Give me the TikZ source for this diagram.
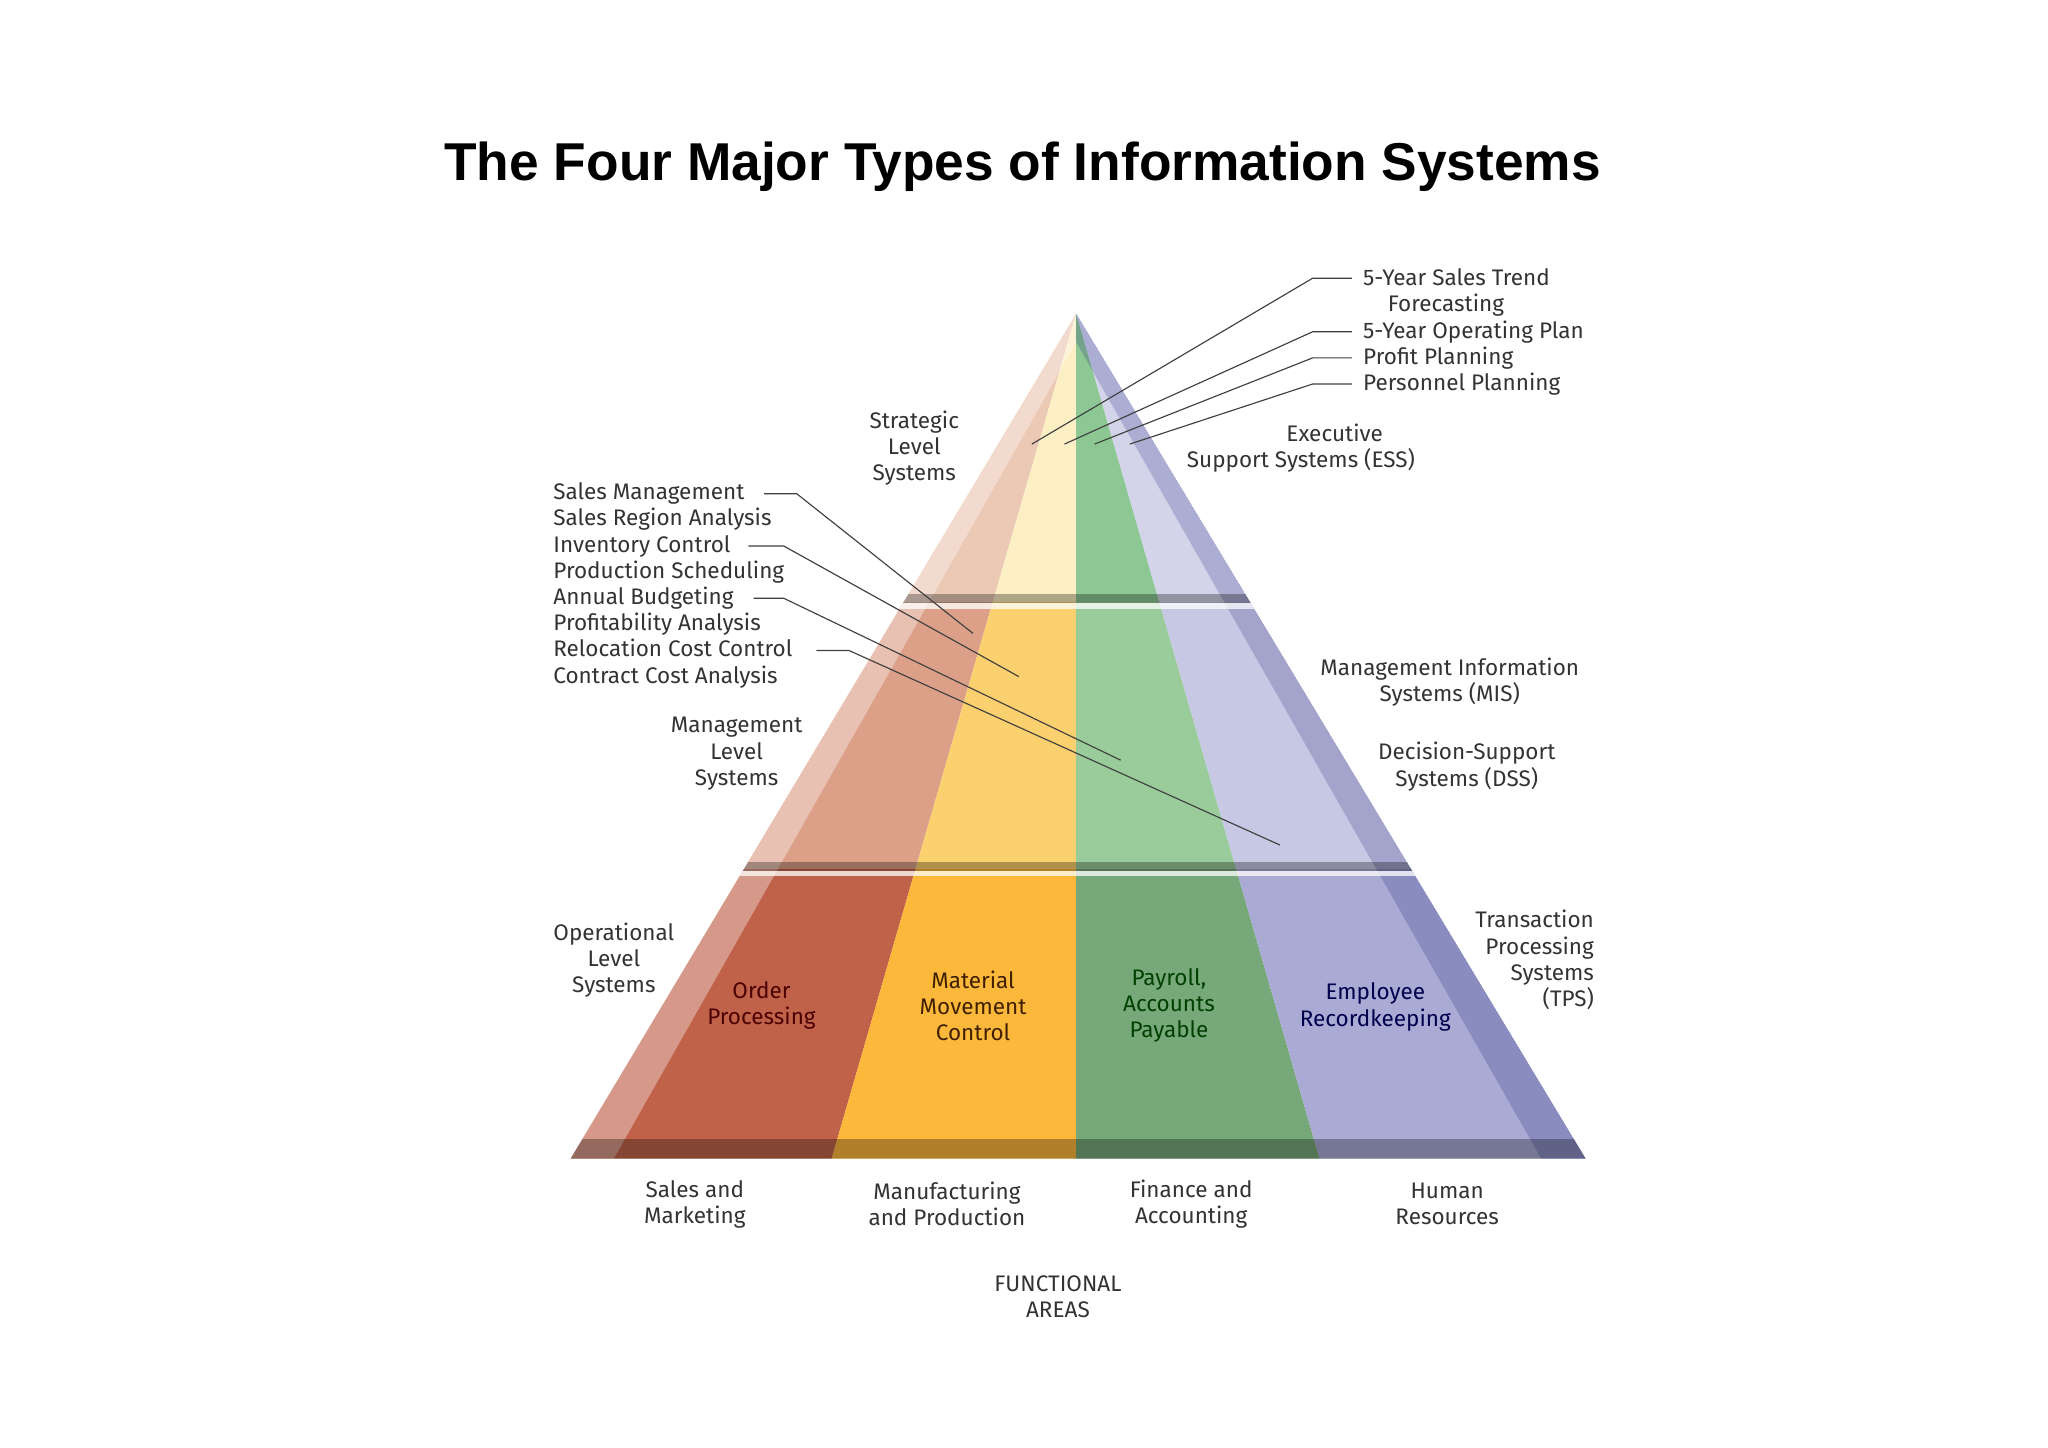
\documentclass[tikz,border=0pt]{standalone}
\usepackage{fontspec}
\setmainfont{Fira Sans}
\newfontfamily\titlefont{Liberation Sans}
\begin{document}
\begin{tikzpicture}[x=0.01cm,y=-0.01cm,
 lbl/.style={font=\fontsize{4.9}{5.7}\selectfont,text=black!80,inner sep=0pt,align=center},
 lst/.style={font=\fontsize{4.9}{5.7}\selectfont,text=black!80,inner sep=0pt,align=left,anchor=north west},
 lead/.style={draw=black!75,line width=0.25pt}]
\useasboundingbox[fill=white] (0,0) rectangle (1568,1108);
\node[font=\titlefont\bfseries\fontsize{11.6}{13}\selectfont] (title) at (783,128) {The Four Major Types of Information Systems};
% pyramid
\coordinate (apex) at (824,240);
\coordinate (bl) at (437,887);
\coordinate (br) at (1214,887);
\begin{scope}
\clip (apex) -- (br) -- (bl) -- cycle;
\def\tier#1#2#3#4#5#6{%
 \begin{scope}\clip (300,#1) rectangle (1300,#2);
 \fill[#3] (824,240) -- (633,900) -- (300,900) -- (300,240) -- cycle;
 \fill[#4] (824,240) -- (633,900) -- (824,900) -- cycle;
 \fill[#5] (824,240) -- (824,900) -- (1014,900) -- cycle;
 \fill[#6] (824,240) -- (1014,900) -- (1300,900) -- (1300,240) -- cycle;
 \end{scope}}
\definecolor{r1}{HTML}{ECC9B5}\definecolor{y1}{HTML}{FCEFC4}\definecolor{g1}{HTML}{8DC894}\definecolor{b1}{HTML}{D3D4EA}
\definecolor{r2}{HTML}{DCA089}\definecolor{y2}{HTML}{FBD16F}\definecolor{g2}{HTML}{9ACB9B}\definecolor{b2}{HTML}{C7C8E3}
\definecolor{r3}{HTML}{C0624A}\definecolor{y3}{HTML}{FBB83B}\definecolor{g3}{HTML}{77A879}\definecolor{b3}{HTML}{A9ABD5}
\tier{230}{461}{r1}{y1}{g1}{b1}
\tier{461}{666}{r2}{y2}{g2}{b2}
\tier{666}{900}{r3}{y3}{g3}{b3}
% facets
\fill[white,opacity=0.35] (apex) -- (bl) -- (470,887) -- (824,262) -- cycle;
\fill[black!60!blue,opacity=0.18] (apex) -- (br) -- (1180,887) -- (824,262) -- cycle;
% separators
\fill[black,opacity=0.3] (300,455) rectangle (1300,462);
\fill[white,opacity=0.75] (300,462) rectangle (1300,466);
\fill[black,opacity=0.3] (300,660) rectangle (1300,667);
\fill[white,opacity=0.75] (300,667) rectangle (1300,671);
\fill[black,opacity=0.3] (300,872) rectangle (1300,890);
\end{scope}
% right labels
\node[lst] (t1) at (1043,205) {5-Year Sales Trend\\\hspace*{1.1em}Forecasting};
\node[lst] (t2) at (1043,245) {5-Year Operating Plan};
\node[lst] (t3) at (1043,265) {Profit Planning};
\node[lst] (t4) at (1043,285) {Personnel Planning};
\coordinate (e1) at (790,340);\coordinate (e2) at (815,340);\coordinate (e3) at (838,340);\coordinate (e4) at (865,340);
\draw[lead] (1035,213) -- (1005,213) -- (e1);
\draw[lead] (1035,254) -- (1005,254) -- (e2);
\draw[lead] (1035,274) -- (1005,274) -- (e3);
\draw[lead] (1035,294) -- (1005,294) -- (e4);
% left list
\node[lst] (ll) at (423,369) {Sales Management\\Sales Region Analysis\\Inventory Control\\Production Scheduling\\Annual Budgeting\\Profitability Analysis\\Relocation Cost Control\\Contract Cost Analysis};
\coordinate (f1) at (745,485);\coordinate (f2) at (780,518);\coordinate (f3) at (858,582);\coordinate (f4) at (980,647);
\draw[lead] (585,378) -- (610,378) -- (f1);
\draw[lead] (573,418) -- (600,418) -- (f2);
\draw[lead] (577,458) -- (600,458) -- (f3);
\draw[lead] (625,498) -- (650,498) -- (f4);
% level labels
\node[lbl] (sl) at (700,343) {Strategic\\Level\\Systems};
\node[lbl] (ml) at (564,577) {Management\\Level\\Systems};
\node[lbl] (ol) at (470,735) {Operational\\Level\\Systems};
\node[lbl] (ess) at (996,343) {\hspace*{3em}Executive\\Support Systems (ESS)};
\node[lbl] (mis) at (1110,522) {Management Information\\Systems (MIS)};
\node[lbl] (dss) at (1123,587) {Decision-Support\\Systems (DSS)};
\node[lbl,align=right,anchor=east] (tps) at (1221,735) {Transaction\\Processing\\Systems\\(TPS)};
% bottom tier
\node[lbl,text=black!70!red] (op) at (583,770) {Order\\Processing};
\node[lbl,text=black!75!orange] (mm) at (745,770) {Material\\Movement\\Control};
\node[lbl,text=black!75!green] (pa) at (895,770) {Payroll,\\Accounts\\Payable};
\node[lbl,text=black!70!blue] (er) at (1053,771) {Employee\\Recordkeeping};
% functional areas
\node[lbl] (sm) at (532,922) {Sales and\\Marketing};
\node[lbl] (mp) at (725,922) {Manufacturing\\and Production};
\node[lbl] (fa) at (912,922) {Finance and\\Accounting};
\node[lbl] (hr) at (1108,922) {Human\\Resources};
\node[lbl] (fun) at (810,993) {FUNCTIONAL\\AREAS};
\end{tikzpicture}
\end{document}
